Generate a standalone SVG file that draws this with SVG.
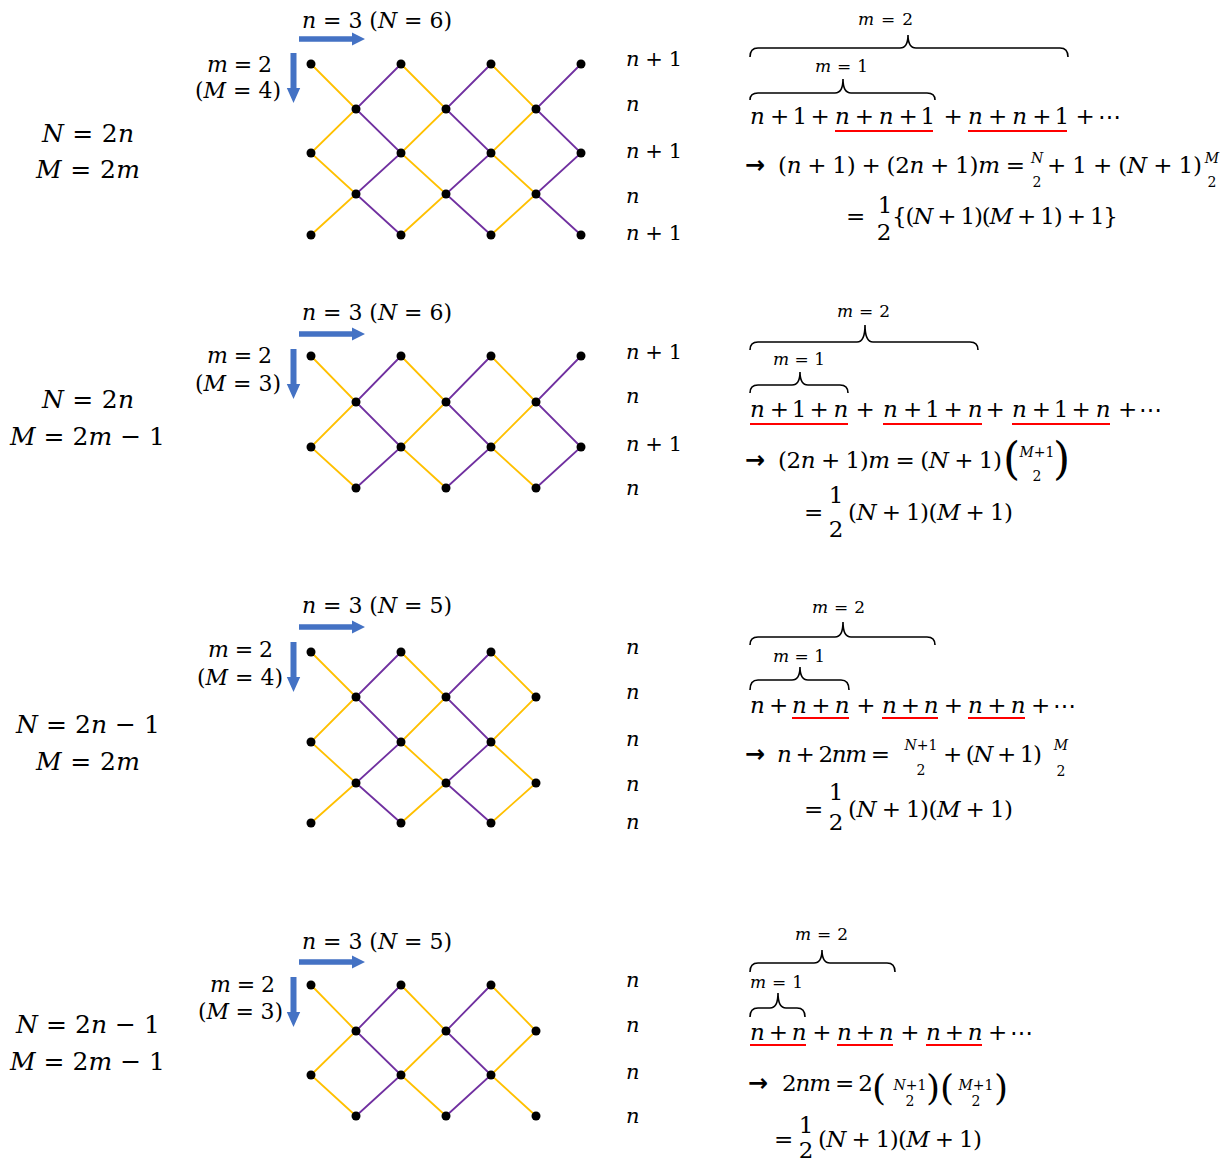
<svg xmlns="http://www.w3.org/2000/svg" width="1231" height="1165" viewBox="0 0 1231 1165">
<style>
.m{font-family:"DejaVu Serif","Liberation Serif",serif;fill:#000}
.i{font-style:italic}
.w{word-spacing:-1px}
.s25{font-size:25px}
.s23{font-size:23px}
.s22{font-size:22px}
.s21{font-size:21px}
.s17{font-size:17px}
.s14{font-size:14px}
.c{text-anchor:middle}
.arw{font-family:"DejaVu Sans","Liberation Sans",sans-serif;font-weight:bold;font-size:24px}
.y{stroke:#FFC000;stroke-width:1.8;fill:none}
.p{stroke:#7030A0;stroke-width:1.8;fill:none}
.ul{stroke:#FF0000;stroke-width:2}
.br{stroke:#000;stroke-width:1.6;fill:none}
.ar{fill:#4472C4}
.d{fill:#000}
</style>
<defs>
<path id="harrow" class="ar" d="M0,-2.7 H53 V-6.5 L66,0 L53,6.5 V2.7 H0 Z"/>
<path id="varrow" class="ar" d="M-3,0 V35 H-6.7 L0,50 L6.7,35 H3 V0 Z"/>
</defs>

<!-- ================= PANEL 1 ================= -->
<g id="p1">
<g id="p1-labels">
<text class="m s25" x="42" y="142" textLength="92" lengthAdjust="spacing"><tspan class="i">N</tspan> = 2<tspan class="i">n</tspan></text>
<text class="m s25" x="36" y="178" textLength="104" lengthAdjust="spacing"><tspan class="i">M</tspan> = 2<tspan class="i">m</tspan></text>
<text class="m s22" x="302" y="28" textLength="150" lengthAdjust="spacing"><tspan class="i">n</tspan> = 3 (<tspan class="i">N</tspan> = 6)</text>
<text class="m s22" x="207" y="72" textLength="65" lengthAdjust="spacing"><tspan class="i">m</tspan> = 2</text>
<text class="m s22" x="195" y="98" textLength="86" lengthAdjust="spacing">(<tspan class="i">M</tspan> = 4)</text>
<use href="#harrow" x="299" y="39"/>
<use href="#varrow" x="293.5" y="53"/>
<text class="m s21" x="626" y="66" textLength="56" lengthAdjust="spacing"><tspan class="i">n</tspan> + 1</text>
<text class="m s21 i" x="626" y="111">n</text>
<text class="m s21" x="626" y="158" textLength="56" lengthAdjust="spacing"><tspan class="i">n</tspan> + 1</text>
<text class="m s21 i" x="626" y="203">n</text>
<text class="m s21" x="626" y="240" textLength="56" lengthAdjust="spacing"><tspan class="i">n</tspan> + 1</text>
</g>
<g id="p1-edges">
<polyline class="y" points="311,64 356,109 311,153 356,194 311,235"/>
<polyline class="y" points="401,64 446,109 401,153 446,194 401,235"/>
<polyline class="y" points="491,64 536,109 491,153 536,194 491,235"/>
<polyline class="p" points="401,64 356,109 401,153 356,194 401,235"/>
<polyline class="p" points="491,64 446,109 491,153 446,194 491,235"/>
<polyline class="p" points="581,64 536,109 581,153 536,194 581,235"/>
</g>
<g id="p1-nodes" class="d">
<circle id="p1-a1" cx="311" cy="64" r="4.5"/><circle id="p1-a2" cx="401" cy="64" r="4.5"/><circle id="p1-a3" cx="491" cy="64" r="4.5"/><circle id="p1-a4" cx="581" cy="64" r="4.5"/>
<circle id="p1-b1" cx="356" cy="109" r="4.5"/><circle id="p1-b2" cx="446" cy="109" r="4.5"/><circle id="p1-b3" cx="536" cy="109" r="4.5"/>
<circle id="p1-c1" cx="311" cy="153" r="4.5"/><circle id="p1-c2" cx="401" cy="153" r="4.5"/><circle id="p1-c3" cx="491" cy="153" r="4.5"/><circle id="p1-c4" cx="581" cy="153" r="4.5"/>
<circle id="p1-d1" cx="356" cy="194" r="4.5"/><circle id="p1-d2" cx="446" cy="194" r="4.5"/><circle id="p1-d3" cx="536" cy="194" r="4.5"/>
<circle id="p1-e1" cx="311" cy="235" r="4.5"/><circle id="p1-e2" cx="401" cy="235" r="4.5"/><circle id="p1-e3" cx="491" cy="235" r="4.5"/><circle id="p1-e4" cx="581" cy="235" r="4.5"/>
</g>
<g id="p1-formula">
<text class="m s17" x="858" y="25" textLength="55" lengthAdjust="spacing"><tspan class="i">m</tspan> = 2</text>
<path class="br" d="M750,57 Q750,48 758,48 L900,48 Q908,48 908,35 Q908,48 916,48 L1060,48 Q1068,48 1068,57"/>
<text class="m s17" x="815" y="72" textLength="53" lengthAdjust="spacing"><tspan class="i">m</tspan> = 1</text>
<path class="br" d="M750,100 Q750,93 758,93 L835,93 Q843,93 843,79 Q843,93 851,93 L927,93 Q935,93 935,100"/>
<text class="m s23" y="124"><tspan class="i" x="750">n</tspan> <tspan x="770">+</tspan> <tspan x="792.4">1</tspan> <tspan x="810.6">+</tspan> <tspan class="i" x="835">n</tspan> <tspan x="854.7">+</tspan> <tspan class="i" x="878.7">n</tspan> <tspan x="898.4">+</tspan> <tspan x="920.4">1</tspan> <tspan x="943.4">+</tspan> <tspan class="i" x="968">n</tspan> <tspan x="988">+</tspan> <tspan class="i" x="1012.3">n</tspan> <tspan x="1032.3">+</tspan> <tspan x="1054.6">1</tspan> <tspan x="1075.6">+</tspan> <tspan x="1097.5">⋯</tspan></text>
<line class="ul" x1="835" y1="131" x2="933" y2="131"/>
<line class="ul" x1="968" y1="131" x2="1067" y2="131"/>
<text class="arw" x="745" y="173">→</text>
<text class="m s23 w" x="778" y="173" textLength="247" lengthAdjust="spacing">(<tspan class="i">n</tspan> + 1) + (2<tspan class="i">n</tspan> + 1)<tspan class="i">m</tspan> =</text>
<text class="m s14 c" x="1037" y="163"><tspan class="i">N</tspan></text>
<text class="m s14 c" x="1037" y="187">2</text>
<text class="m s23 w" x="1047" y="173" textLength="155" lengthAdjust="spacing">+ 1 + (<tspan class="i">N</tspan> + 1)</text>
<text class="m s14 c" x="1212" y="163"><tspan class="i">M</tspan></text>
<text class="m s14 c" x="1212" y="187">2</text>
<text class="m s23" x="846" y="224">=</text>
<text class="m s23 c" x="885" y="213">1</text>
<text class="m s23 c" x="884" y="240">2</text>
<text class="m s23 w" x="892" y="224" textLength="226" lengthAdjust="spacing">{(<tspan class="i">N</tspan> + 1)(<tspan class="i">M</tspan> + 1) + 1}</text>
</g>
</g>

<!-- ================= PANEL 2 ================= -->
<g id="p2">
<g id="p2-labels">
<text class="m s25" x="42" y="408" textLength="92" lengthAdjust="spacing"><tspan class="i">N</tspan> = 2<tspan class="i">n</tspan></text>
<text class="m s25" x="10" y="445" textLength="155" lengthAdjust="spacing"><tspan class="i">M</tspan> = 2<tspan class="i">m</tspan> − 1</text>
<text class="m s22" x="302" y="320" textLength="150" lengthAdjust="spacing"><tspan class="i">n</tspan> = 3 (<tspan class="i">N</tspan> = 6)</text>
<text class="m s22" x="207" y="363" textLength="65" lengthAdjust="spacing"><tspan class="i">m</tspan> = 2</text>
<text class="m s22" x="195" y="391" textLength="86" lengthAdjust="spacing">(<tspan class="i">M</tspan> = 3)</text>
<use href="#harrow" x="299" y="334"/>
<use href="#varrow" x="293.5" y="349"/>
<text class="m s21" x="626" y="359" textLength="56" lengthAdjust="spacing"><tspan class="i">n</tspan> + 1</text>
<text class="m s21 i" x="626" y="403">n</text>
<text class="m s21" x="626" y="451" textLength="56" lengthAdjust="spacing"><tspan class="i">n</tspan> + 1</text>
<text class="m s21 i" x="626" y="495">n</text>
</g>
<g id="p2-edges">
<polyline class="y" points="311,356 356,402 311,447 356,488"/>
<polyline class="y" points="401,356 446,402 401,447 446,488"/>
<polyline class="y" points="491,356 536,402 491,447 536,488"/>
<polyline class="p" points="401,356 356,402 401,447 356,488"/>
<polyline class="p" points="491,356 446,402 491,447 446,488"/>
<polyline class="p" points="581,356 536,402 581,447 536,488"/>
</g>
<g id="p2-nodes" class="d">
<circle id="p2-a1" cx="311" cy="356" r="4.5"/><circle id="p2-a2" cx="401" cy="356" r="4.5"/><circle id="p2-a3" cx="491" cy="356" r="4.5"/><circle id="p2-a4" cx="581" cy="356" r="4.5"/>
<circle id="p2-b1" cx="356" cy="402" r="4.5"/><circle id="p2-b2" cx="446" cy="402" r="4.5"/><circle id="p2-b3" cx="536" cy="402" r="4.5"/>
<circle id="p2-c1" cx="311" cy="447" r="4.5"/><circle id="p2-c2" cx="401" cy="447" r="4.5"/><circle id="p2-c3" cx="491" cy="447" r="4.5"/><circle id="p2-c4" cx="581" cy="447" r="4.5"/>
<circle id="p2-d1" cx="356" cy="488" r="4.5"/><circle id="p2-d2" cx="446" cy="488" r="4.5"/><circle id="p2-d3" cx="536" cy="488" r="4.5"/>
</g>
<g id="p2-formula">
<text class="m s17" x="837" y="317" textLength="53" lengthAdjust="spacing"><tspan class="i">m</tspan> = 2</text>
<path class="br" d="M750,350 Q750,342 758,342 L857,342 Q865,342 865,325 Q865,342 873,342 L970,342 Q978,342 978,350"/>
<text class="m s17" x="773" y="365" textLength="52" lengthAdjust="spacing"><tspan class="i">m</tspan> = 1</text>
<path class="br" d="M750,393 Q750,385 758,385 L792,385 Q800,385 800,372 Q800,385 808,385 L840,385 Q848,385 848,393"/>
<text class="m s23" y="417"><tspan class="i" x="750">n</tspan> <tspan x="769.7">+</tspan> <tspan x="791.7">1</tspan> <tspan x="809.6">+</tspan> <tspan class="i" x="833.6">n</tspan> <tspan x="855.4">+</tspan> <tspan class="i" x="883">n</tspan> <tspan x="903">+</tspan> <tspan x="925.3">1</tspan> <tspan x="943.5">+</tspan> <tspan class="i" x="967.7">n</tspan> <tspan x="985.4">+</tspan> <tspan class="i" x="1012">n</tspan> <tspan x="1031.7">+</tspan> <tspan x="1053.7">1</tspan> <tspan x="1071.6">+</tspan> <tspan class="i" x="1095.7">n</tspan> <tspan x="1117.9">+</tspan> <tspan x="1138.5">⋯</tspan></text>
<line class="ul" x1="750" y1="424" x2="848" y2="424"/>
<line class="ul" x1="883" y1="424" x2="982" y2="424"/>
<line class="ul" x1="1012" y1="424" x2="1110" y2="424"/>
<text class="arw" x="745" y="468">→</text>
<text class="m s23 w" x="778" y="468" textLength="224" lengthAdjust="spacing">(2<tspan class="i">n</tspan> + 1)<tspan class="i">m</tspan> = (<tspan class="i">N</tspan> + 1)</text>
<text class="m" style="font-size:44px" x="1003" y="474">(</text>
<text class="m s14 c" x="1037" y="457"><tspan class="i">M</tspan>+1</text>
<text class="m s14 c" x="1037" y="481">2</text>
<text class="m" style="font-size:44px" x="1053" y="474">)</text>
<text class="m s23" x="804" y="520">=</text>
<text class="m s23 c" x="836" y="503">1</text>
<text class="m s23 c" x="836" y="537">2</text>
<text class="m s23 w" x="848" y="520" textLength="165" lengthAdjust="spacing">(<tspan class="i">N</tspan> + 1)(<tspan class="i">M</tspan> + 1)</text>
</g>
</g>

<!-- ================= PANEL 3 ================= -->
<g id="p3">
<g id="p3-labels">
<text class="m s25" x="16" y="733" textLength="144" lengthAdjust="spacing"><tspan class="i">N</tspan> = 2<tspan class="i">n</tspan> − 1</text>
<text class="m s25" x="36" y="770" textLength="104" lengthAdjust="spacing"><tspan class="i">M</tspan> = 2<tspan class="i">m</tspan></text>
<text class="m s22" x="302" y="613" textLength="150" lengthAdjust="spacing"><tspan class="i">n</tspan> = 3 (<tspan class="i">N</tspan> = 5)</text>
<text class="m s22" x="208" y="657" textLength="65" lengthAdjust="spacing"><tspan class="i">m</tspan> = 2</text>
<text class="m s22" x="197" y="685" textLength="86" lengthAdjust="spacing">(<tspan class="i">M</tspan> = 4)</text>
<use href="#harrow" x="299" y="627"/>
<use href="#varrow" x="293.5" y="642"/>
<text class="m s21 i" x="626" y="654">n</text>
<text class="m s21 i" x="626" y="699">n</text>
<text class="m s21 i" x="626" y="746">n</text>
<text class="m s21 i" x="626" y="791">n</text>
<text class="m s21 i" x="626" y="829">n</text>
</g>
<g id="p3-edges">
<polyline class="y" points="311,652 356,697 311,742 356,783 311,823"/>
<polyline class="y" points="401,652 446,697 401,742 446,783 401,823"/>
<polyline class="y" points="491,652 536,697 491,742 536,783 491,823"/>
<polyline class="p" points="401,652 356,697 401,742 356,783 401,823"/>
<polyline class="p" points="491,652 446,697 491,742 446,783 491,823"/>
</g>
<g id="p3-nodes" class="d">
<circle id="p3-a1" cx="311" cy="652" r="4.5"/><circle id="p3-a2" cx="401" cy="652" r="4.5"/><circle id="p3-a3" cx="491" cy="652" r="4.5"/>
<circle id="p3-b1" cx="356" cy="697" r="4.5"/><circle id="p3-b2" cx="446" cy="697" r="4.5"/><circle id="p3-b3" cx="536" cy="697" r="4.5"/>
<circle id="p3-c1" cx="311" cy="742" r="4.5"/><circle id="p3-c2" cx="401" cy="742" r="4.5"/><circle id="p3-c3" cx="491" cy="742" r="4.5"/>
<circle id="p3-d1" cx="356" cy="783" r="4.5"/><circle id="p3-d2" cx="446" cy="783" r="4.5"/><circle id="p3-d3" cx="536" cy="783" r="4.5"/>
<circle id="p3-e1" cx="311" cy="823" r="4.5"/><circle id="p3-e2" cx="401" cy="823" r="4.5"/><circle id="p3-e3" cx="491" cy="823" r="4.5"/>
</g>
<g id="p3-formula">
<text class="m s17" x="812" y="613" textLength="53" lengthAdjust="spacing"><tspan class="i">m</tspan> = 2</text>
<path class="br" d="M750,645 Q750,637 758,637 L835,637 Q843,637 843,622 Q843,637 851,637 L927,637 Q935,637 935,645"/>
<text class="m s17" x="773" y="662" textLength="52" lengthAdjust="spacing"><tspan class="i">m</tspan> = 1</text>
<path class="br" d="M750,690 Q750,680 758,680 L792,680 Q800,680 800,667 Q800,680 808,680 L841,680 Q849,680 849,690"/>
<text class="m s23" y="713"><tspan class="i" x="750">n</tspan> <tspan x="768.9">+</tspan> <tspan class="i" x="792">n</tspan> <tspan x="811.2">+</tspan> <tspan class="i" x="834.7">n</tspan> <tspan x="856.3">+</tspan> <tspan class="i" x="882">n</tspan> <tspan x="900.7">+</tspan> <tspan class="i" x="923.7">n</tspan> <tspan x="943.8">+</tspan> <tspan class="i" x="968">n</tspan> <tspan x="987.2">+</tspan> <tspan class="i" x="1010.7">n</tspan> <tspan x="1030.9">+</tspan> <tspan x="1052.5">⋯</tspan></text>
<line class="ul" x1="792" y1="718" x2="849" y2="718"/>
<line class="ul" x1="882" y1="718" x2="938" y2="718"/>
<line class="ul" x1="968" y1="718" x2="1025" y2="718"/>
<text class="arw" x="745" y="762">→</text>
<text class="m s23 w" x="777" y="762" textLength="113" lengthAdjust="spacing"><tspan class="i">n</tspan> + 2<tspan class="i">nm</tspan> =</text>
<text class="m s14 c" x="921" y="750"><tspan class="i">N</tspan>+1</text>
<text class="m s14 c" x="921" y="775">2</text>
<text class="m s23 w" x="943" y="762" textLength="99" lengthAdjust="spacing">+ (<tspan class="i">N</tspan> + 1)</text>
<text class="m s14 c" x="1061" y="750"><tspan class="i">M</tspan></text>
<text class="m s14 c" x="1061" y="776">2</text>
<text class="m s23" x="804" y="817">=</text>
<text class="m s23 c" x="836" y="800">1</text>
<text class="m s23 c" x="836" y="830">2</text>
<text class="m s23 w" x="848" y="817" textLength="165" lengthAdjust="spacing">(<tspan class="i">N</tspan> + 1)(<tspan class="i">M</tspan> + 1)</text>
</g>
</g>

<!-- ================= PANEL 4 ================= -->
<g id="p4">
<g id="p4-labels">
<text class="m s25" x="16" y="1033" textLength="144" lengthAdjust="spacing"><tspan class="i">N</tspan> = 2<tspan class="i">n</tspan> − 1</text>
<text class="m s25" x="10" y="1070" textLength="155" lengthAdjust="spacing"><tspan class="i">M</tspan> = 2<tspan class="i">m</tspan> − 1</text>
<text class="m s22" x="302" y="949" textLength="150" lengthAdjust="spacing"><tspan class="i">n</tspan> = 3 (<tspan class="i">N</tspan> = 5)</text>
<text class="m s22" x="210" y="992" textLength="65" lengthAdjust="spacing"><tspan class="i">m</tspan> = 2</text>
<text class="m s22" x="198" y="1019" textLength="85" lengthAdjust="spacing">(<tspan class="i">M</tspan> = 3)</text>
<use href="#harrow" x="299" y="962"/>
<use href="#varrow" x="293.5" y="977"/>
<text class="m s21 i" x="626" y="987">n</text>
<text class="m s21 i" x="626" y="1032">n</text>
<text class="m s21 i" x="626" y="1079">n</text>
<text class="m s21 i" x="626" y="1123">n</text>
</g>
<g id="p4-edges">
<polyline class="y" points="311,985 356,1031 311,1075 356,1116"/>
<polyline class="y" points="401,985 446,1031 401,1075 446,1116"/>
<polyline class="y" points="491,985 536,1031 491,1075 536,1116"/>
<polyline class="p" points="401,985 356,1031 401,1075 356,1116"/>
<polyline class="p" points="491,985 446,1031 491,1075 446,1116"/>
</g>
<g id="p4-nodes" class="d">
<circle id="p4-a1" cx="311" cy="985" r="4.5"/><circle id="p4-a2" cx="401" cy="985" r="4.5"/><circle id="p4-a3" cx="491" cy="985" r="4.5"/>
<circle id="p4-b1" cx="356" cy="1031" r="4.5"/><circle id="p4-b2" cx="446" cy="1031" r="4.5"/><circle id="p4-b3" cx="536" cy="1031" r="4.5"/>
<circle id="p4-c1" cx="311" cy="1075" r="4.5"/><circle id="p4-c2" cx="401" cy="1075" r="4.5"/><circle id="p4-c3" cx="491" cy="1075" r="4.5"/>
<circle id="p4-d1" cx="356" cy="1116" r="4.5"/><circle id="p4-d2" cx="446" cy="1116" r="4.5"/><circle id="p4-d3" cx="536" cy="1116" r="4.5"/>
</g>
<g id="p4-formula">
<text class="m s17" x="795" y="940" textLength="53" lengthAdjust="spacing"><tspan class="i">m</tspan> = 2</text>
<path class="br" d="M750,972 Q750,963 758,963 L814,963 Q822,963 822,950 Q822,963 830,963 L887,963 Q895,963 895,972"/>
<text class="m s17" x="750" y="988" textLength="53" lengthAdjust="spacing"><tspan class="i">m</tspan> = 1</text>
<path class="br" d="M750,1017 Q750,1008 758,1008 L770,1008 Q778,1008 778,993 Q778,1008 786,1008 L797,1008 Q805,1008 805,1017"/>
<text class="m s23" y="1040"><tspan class="i" x="750">n</tspan> <tspan x="768.7">+</tspan> <tspan class="i" x="791.7">n</tspan> <tspan x="812.2">+</tspan> <tspan class="i" x="837">n</tspan> <tspan x="855.7">+</tspan> <tspan class="i" x="878.7">n</tspan> <tspan x="900.2">+</tspan> <tspan class="i" x="926">n</tspan> <tspan x="944.7">+</tspan> <tspan class="i" x="967.7">n</tspan> <tspan x="987.9">+</tspan> <tspan x="1009.5">⋯</tspan></text>
<line class="ul" x1="750" y1="1045" x2="806" y2="1045"/>
<line class="ul" x1="837" y1="1045" x2="893" y2="1045"/>
<line class="ul" x1="926" y1="1045" x2="982" y2="1045"/>
<text class="arw" x="748" y="1091">→</text>
<text class="m s23 w" x="782" y="1091" textLength="91" lengthAdjust="spacing">2<tspan class="i">nm</tspan> = 2</text>
<text class="m" style="font-size:36px" x="872" y="1100">(</text>
<text class="m s14 c" x="910" y="1090"><tspan class="i">N</tspan>+1</text>
<text class="m s14 c" x="910" y="1106">2</text>
<text class="m" style="font-size:36px" x="926" y="1100">)</text>
<text class="m" style="font-size:36px" x="940" y="1100">(</text>
<text class="m s14 c" x="976" y="1090"><tspan class="i">M</tspan>+1</text>
<text class="m s14 c" x="976" y="1106">2</text>
<text class="m" style="font-size:36px" x="994" y="1100">)</text>
<text class="m s23" x="774" y="1147">=</text>
<text class="m s23 c" x="806" y="1133">1</text>
<text class="m s23 c" x="806" y="1158">2</text>
<text class="m s23 w" x="818" y="1147" textLength="164" lengthAdjust="spacing">(<tspan class="i">N</tspan> + 1)(<tspan class="i">M</tspan> + 1)</text>
</g>
</g>
</svg>
